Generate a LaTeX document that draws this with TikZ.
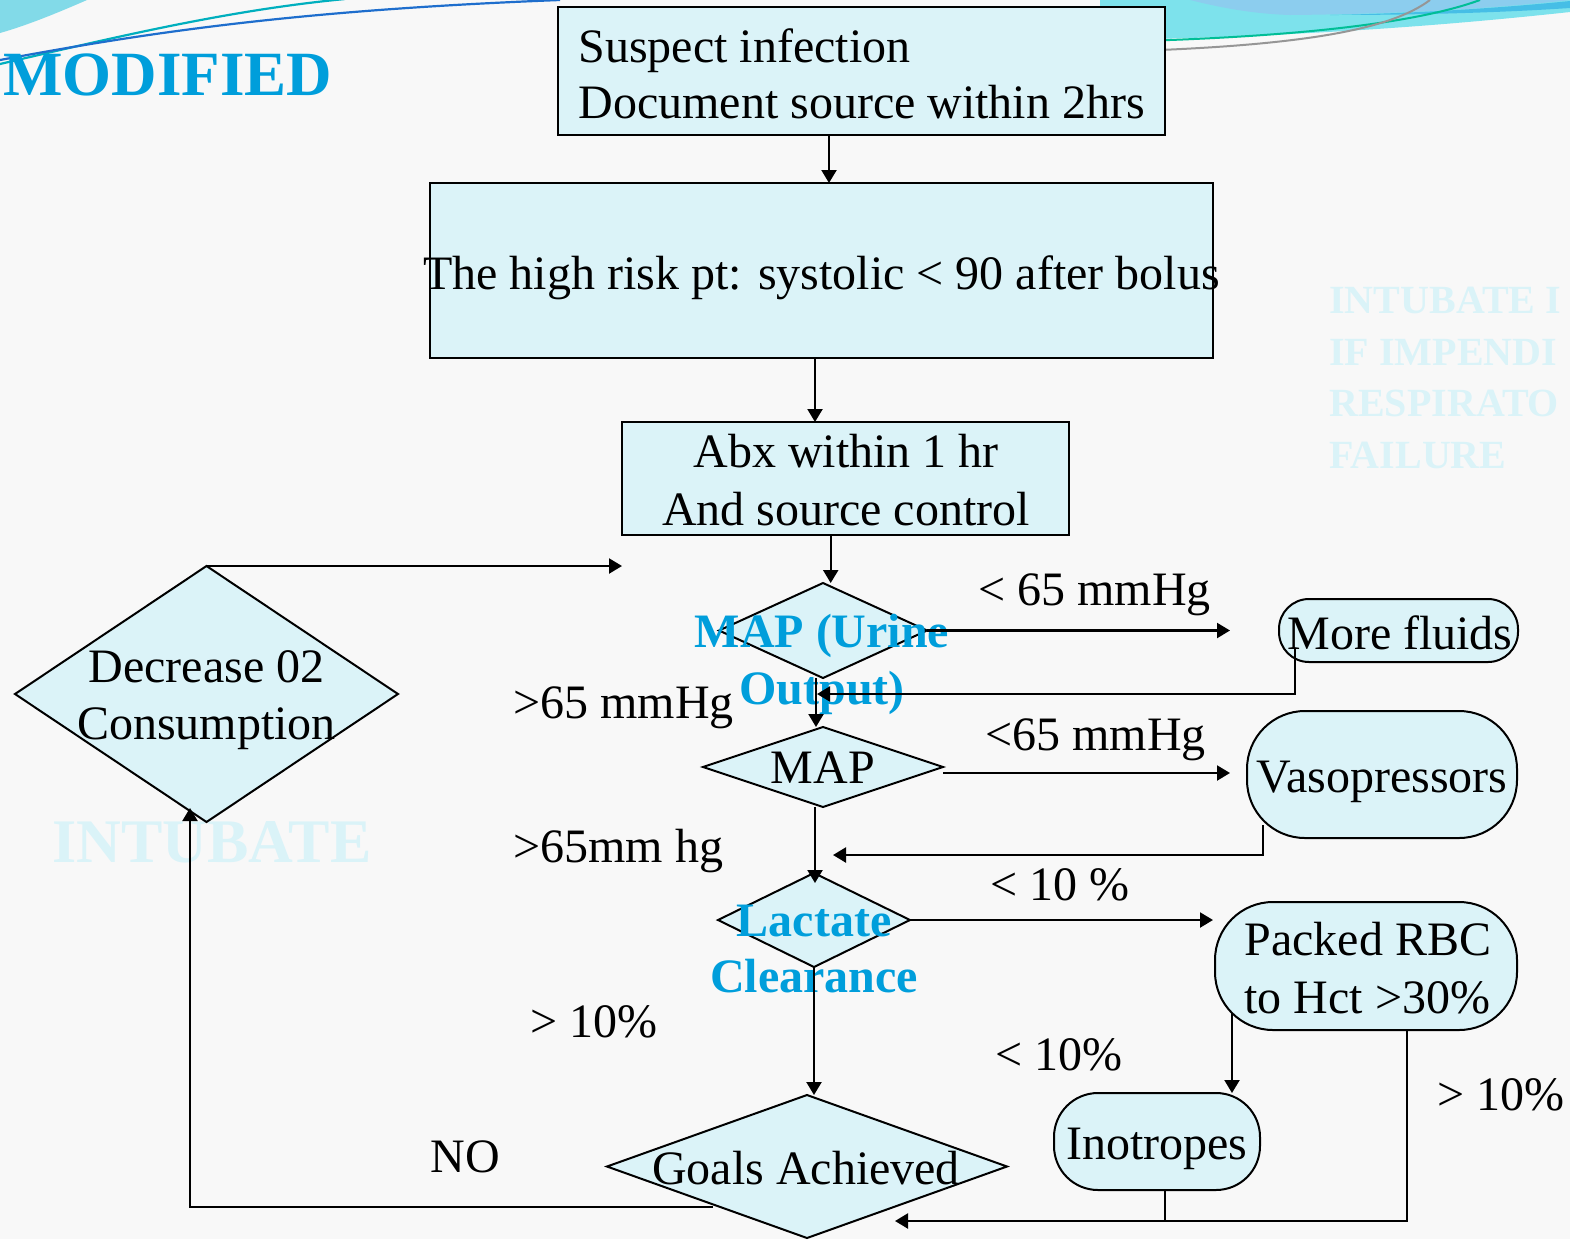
\documentclass[tikz,border=0pt]{standalone}
\usepackage{fontspec}
\setmainfont{Liberation Serif}
\usetikzlibrary{shapes.geometric,arrows.meta}
\definecolor{cfill}{RGB}{219,243,248}
\definecolor{bgc}{RGB}{248,248,248}
\definecolor{tblue}{RGB}{0,158,219}
\definecolor{faint}{RGB}{218,243,248}
\definecolor{swA}{RGB}{130,218,232}
\definecolor{swB}{RGB}{125,226,236}
\definecolor{swC}{RGB}{140,205,238}
\definecolor{swD}{RGB}{70,190,230}
\definecolor{lnTeal}{RGB}{0,175,190}
\definecolor{lnBlue}{RGB}{30,110,205}
\definecolor{lnGreen}{RGB}{0,190,150}
\definecolor{lnGray}{RGB}{150,150,150}
\tikzset{
  shp/.style={draw=black, line width=1pt, fill=cfill, inner sep=0pt, outer sep=0pt},
  boxs/.style={shp, rectangle},
  dias/.style={shp, diamond},
  rnds/.style={shp, rectangle, rounded corners=#1},
  txt/.style={inner sep=0pt, font=\fontsize{24pt}{28pt}\selectfont},
  btxt/.style={inner sep=0pt, text=tblue, font=\bfseries\fontsize{24pt}{28.5pt}\selectfont, align=center},
  lab/.style={txt, anchor=base west},
  arr/.style={line width=1.1pt, -{Triangle[length=6.5pt,width=7.5pt]}},
  ln/.style={line width=1.1pt},
}
\begin{document}
\begin{tikzpicture}[x=0.5pt,y=-0.5pt]
% background
\fill[bgc] (0,0) rectangle (1570,1239);
\useasboundingbox (0,0) rectangle (1570,1239);
% top decorations
\fill[swA] (0,0) -- (87,0) .. controls (55,14) and (25,26) .. (0,33) -- cycle;
\draw[line width=1.1pt, lnTeal] (0,64) .. controls (120,36) and (230,10) .. (345,-1);
\draw[line width=1.1pt, lnBlue] (0,60) .. controls (150,32) and (300,10) .. (560,0);
\fill[swB] (1100,0) -- (1100,40) .. controls (1300,37) and (1450,25) .. (1570,12) -- (1570,0) -- cycle;
\fill[swC] (1190,0) .. controls (1230,10) and (1260,14) .. (1290,15) .. controls (1400,14) and (1500,8) .. (1570,0) -- cycle;
\fill[swD] (1330,15) .. controls (1430,13) and (1510,7) .. (1570,1) -- (1570,8) .. controls (1510,12) and (1430,15) .. (1330,15) -- cycle;
\draw[line width=1pt, lnGreen] (1100,42) .. controls (1300,38) and (1420,22) .. (1480,0);
\draw[line width=1pt, lnGray] (1100,52) .. controls (1300,47) and (1390,30) .. (1430,0);
% title and faint texts
\node[inner sep=0pt, anchor=base west, text=tblue, font=\bfseries\fontsize{31.5pt}{36pt}\selectfont] (title) at (3,95) {MODIFIED};
\node[inner sep=0pt, anchor=base west, text=faint, font=\bfseries\fontsize{31pt}{36pt}\selectfont] (intub) at (52,862) {INTUBATE};
\node[inner sep=0pt, anchor=north west, align=left, text=faint, font=\bfseries\fontsize{20pt}{25.7pt}\selectfont] (intub2) at (1329,287) {INTUBATE I\\IF IMPENDI\\RESPIRATO\\FAILURE};
% shapes
\node[boxs, minimum width=303.5pt, minimum height=64pt] (b1) at (861.5,71) {};
\node[boxs, minimum width=391.5pt, minimum height=87.5pt] (b2) at (821.5,270.5) {};
\node[boxs, minimum width=223.5pt, minimum height=56.5pt] (b3) at (845.5,478.5) {};
\node[dias, minimum width=104pt, minimum height=47.5pt] (d1) at (823,630.5) {};
\node[dias, minimum width=120pt, minimum height=40pt] (d2) at (823,767) {};
\node[dias, minimum width=96pt, minimum height=47pt] (d3) at (814,920) {};
\node[dias, minimum width=200pt, minimum height=71.5pt] (d4) at (807,1166.5) {};
\node[dias, minimum width=191.5pt, minimum height=128pt] (d5) at (206.5,694) {};
\node[rnds=15pt, minimum width=119.5pt, minimum height=31.5pt] (fl) at (1398.5,630.5) {};
\node[rnds=29pt, minimum width=135pt, minimum height=63.5pt] (vp) at (1382,774.5) {};
\node[rnds=29pt, minimum width=151pt, minimum height=64pt] (rbc) at (1366,966) {};
\node[rnds=22pt, minimum width=103pt, minimum height=48.5pt] (ino) at (1157,1141.5) {};
% texts in shapes
\node[txt, anchor=west, align=left] (tb1) at (578,74) {Suspect infection\\Document source within 2hrs};
\node[txt, anchor=base] (tb2) at (821.5,289) {The high risk pt: systolic < 90 after bolus};
\node[txt, anchor=center, align=center, font=\fontsize{24pt}{29pt}\selectfont] (tb3) at (846,480) {Abx within 1 hr\\And source control};
\node[btxt] (td1) at (822,664.5) {MAP (Urine\\Output)};
\node[txt, anchor=base] (td2) at (823,783) {MAP};
\node[btxt, font=\bfseries\fontsize{24pt}{28pt}\selectfont] (td3) at (814,949.5) {Lactate\\Clearance};
\node[txt, anchor=base] (td4) at (806,1184) {Goals Achieved};
\node[txt, align=center, font=\fontsize{24pt}{28.5pt}\selectfont] (td5) at (206.5,700) {Decrease 02\\Consumption};
\node[txt, anchor=base] (tfl) at (1400,649) {More fluids};
\node[txt, anchor=base] (tvp) at (1382,792) {Vasopressors};
\node[txt, anchor=west, align=left, font=\fontsize{24pt}{29pt}\selectfont] (trbc) at (1244,968) {Packed RBC\\to Hct >30\%};
\node[txt, anchor=base] (tino) at (1157,1159) {Inotropes};
% connectors
\coordinate (s1) at ([xshift=-16.25pt]b1.south);
\draw[arr] (s1) -- (s1 |- b2.north);
\coordinate (s2) at ([xshift=-3.25pt]b2.south);
\draw[arr] (s2) -- (s2 |- b3.north);
\coordinate (s3) at ([xshift=-7.4pt]b3.south);
\draw[arr] (s3) -- (s3 |- d1.north);
\coordinate (t4) at ([xshift=-24.5pt]fl.west);
\draw[arr] (d1.east) -- (d1.east -| t4);
\coordinate (s5) at ([xshift=8pt,yshift=7pt]fl.south west);
\coordinate (t5) at ([xshift=-3pt,yshift=-8pt]d1.south);
\draw[arr] (s5) |- (t5);
\coordinate (s6) at ([xshift=-3.5pt]d1.south);
\draw[arr] (s6) -- (s6 |- d2.north);
\coordinate (s7) at ([yshift=-3pt]d2.east);
\coordinate (t7) at ([xshift=-8.5pt]vp.west);
\draw[arr] (s7) -- (s7 -| t7);
\coordinate (s8) at ([xshift=8pt,yshift=6.5pt]vp.south west);
\coordinate (t8) at ([xshift=5pt,yshift=-24pt]d2.south);
\draw[arr] (s8) |- (t8);
\coordinate (s9) at ([xshift=-4pt]d2.south);
\coordinate (t9) at ([yshift=-5pt]d3.north);
\draw[arr] (s9) -- (s9 |- t9);
\coordinate (t10) at ([xshift=-1pt]rbc.west);
\draw[arr] (d3.east) -- (d3.east -| t10);
\coordinate (s11) at ([xshift=8.5pt,yshift=8.5pt]rbc.south west);
\draw[arr] (s11) -- (s11 |- ino.north);
\draw[arr] (d3.south) -- (d3.south |- d4.north);
\coordinate (s14) at ([xshift=20.5pt]rbc.south);
\coordinate (t14) at ([xshift=44pt,yshift=-27.25pt]d4.center);
\draw[arr] (s14) |- (t14);
\coordinate (s13) at ([xshift=4pt]ino.south);
\draw[ln] (s13) -- (s13 |- t14);
\coordinate (s15) at ([xshift=3pt,yshift=-2.4pt]d4.south west);
\coordinate (t15) at ([xshift=-8.25pt,yshift=7pt]d5.south);
\draw[arr] (s15) -| (t15);
\draw[arr] (d5.north) -- (d5.north -| b3.west);
% connector labels
\node[lab] (l1) at (978,605) {< 65 mmHg};
\node[lab] (l2) at (513,718) {>65 mmHg};
\node[lab] (l3) at (985,750) {<65 mmHg};
\node[lab] (l4) at (513,862) {>65mm hg};
\node[lab] (l5) at (990,900) {< 10 \%};
\node[lab] (l6) at (995,1070) {< 10\%};
\node[lab] (l7) at (530,1037) {> 10\%};
\node[lab] (l8) at (1437,1110) {> 10\%};
\node[lab] (l9) at (430,1172) {NO};
\end{tikzpicture}
\end{document}
